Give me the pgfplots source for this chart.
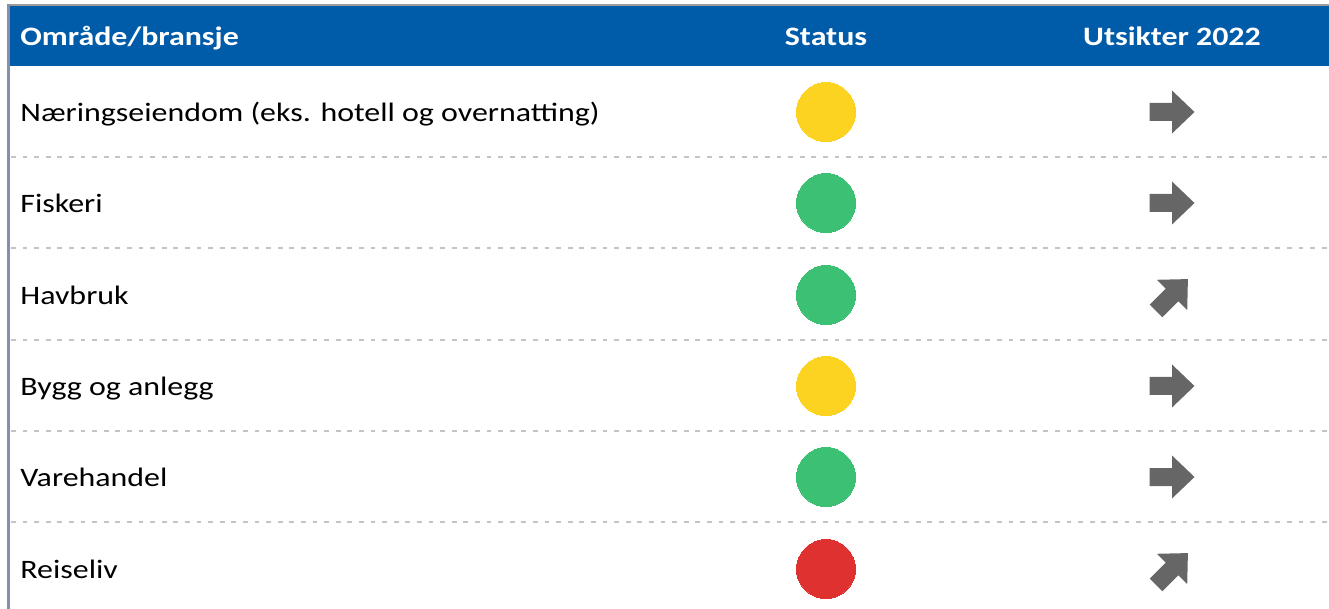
\documentclass[border=0pt]{standalone}
\usepackage{pgfplots}
\pgfplotsset{compat=1.18}
\usepackage{fontspec}
\setmainfont{Carlito}[FakeStretch=1.2]
\definecolor{hdrblue}{HTML}{005BA8}
\definecolor{cyellow}{HTML}{FDD321}
\definecolor{cgreen}{HTML}{3CC174}
\definecolor{cred}{HTML}{E03131}
\definecolor{arrowgray}{HTML}{666666}
\definecolor{dashgray}{HTML}{C4C4C4}
\definecolor{leftline}{HTML}{8291AB}
\definecolor{topline}{HTML}{9B9B9B}
\pgfdeclareplotmark{fatarrow}{%
  \pgfpathmoveto{\pgfpoint{-11.25pt}{-4.5pt}}%
  \pgfpathlineto{\pgfpoint{0pt}{-4.5pt}}%
  \pgfpathlineto{\pgfpoint{0pt}{-10.75pt}}%
  \pgfpathlineto{\pgfpoint{11.25pt}{0pt}}%
  \pgfpathlineto{\pgfpoint{0pt}{10.75pt}}%
  \pgfpathlineto{\pgfpoint{0pt}{4.5pt}}%
  \pgfpathlineto{\pgfpoint{-11.25pt}{4.5pt}}%
  \pgfpathclose
  \pgfusepathqfill}
\begin{document}
\begin{tikzpicture}
\begin{axis}[
  width=664.5pt, height=304.5pt, scale only axis,
  xmin=0, xmax=1329, ymin=0, ymax=609, y dir=reverse,
  hide axis, clip=false,
]
% header band
\addplot[fill=hdrblue, draw=none] coordinates {(10,6) (1329,6) (1329,66) (10,66)} -- cycle;
% borders
\addplot[topline, line width=1pt] coordinates {(8,5) (1329,5)};
\addplot[leftline, line width=1.2pt] coordinates {(8.5,4) (8.5,609)};
% dashed separators
\foreach \yy in {157,248,340,431,522} {
  \edef\tmp{\noexpand\addplot[dashgray, line width=1pt, dash pattern=on 2.4pt off 3.4pt] coordinates {(11,\yy) (1329,\yy)};}
  \tmp
}
% status circles
\addplot[cyellow, only marks, mark=*, mark size=14.75pt, mark options={draw=cyellow, fill=cyellow, line width=0pt}] coordinates {(826,112) (826,386)};
\addplot[cgreen, only marks, mark=*, mark size=14.75pt, mark options={draw=cgreen, fill=cgreen, line width=0pt}] coordinates {(826,203) (826,295) (826,477)};
\addplot[cred, only marks, mark=*, mark size=14.75pt, mark options={draw=cred, fill=cred, line width=0pt}] coordinates {(826,569)};
% outlook arrows
\addplot[arrowgray, only marks, mark=fatarrow, mark options={fill=arrowgray}] coordinates {(1172,112) (1172,203) (1172,386) (1172,477)};
\addplot[arrowgray, only marks, mark=fatarrow, mark options={fill=arrowgray, rotate=45}] coordinates {(1172,295) (1172,569)};
% header text
\node[anchor=base west, inner sep=0, text=white, font=\fontsize{13.3}{15}\selectfont\bfseries] at (axis cs:20,45.5) {Område/bransje};
\node[anchor=base, inner sep=0, text=white, font=\fontsize{13.3}{15}\selectfont\bfseries] at (axis cs:826,45.5) {Status};
\node[anchor=base, inner sep=0, text=white, font=\fontsize{13.3}{15}\selectfont\bfseries] at (axis cs:1172,45.5) {Utsikter 2022};
% row labels
\node[anchor=base west, inner sep=0, font=\fontsize{13.3}{15}\selectfont] at (axis cs:20,121.5) {Næringseiendom (eks. hotell og overnatting)};
\node[anchor=base west, inner sep=0, font=\fontsize{13.3}{15}\selectfont] at (axis cs:20,212.5) {Fiskeri};
\node[anchor=base west, inner sep=0, font=\fontsize{13.3}{15}\selectfont] at (axis cs:20,304.5) {Havbruk};
\node[anchor=base west, inner sep=0, font=\fontsize{13.3}{15}\selectfont] at (axis cs:20,395.5) {Bygg og anlegg};
\node[anchor=base west, inner sep=0, font=\fontsize{13.3}{15}\selectfont] at (axis cs:20,486.5) {Varehandel};
\node[anchor=base west, inner sep=0, font=\fontsize{13.3}{15}\selectfont] at (axis cs:20,578) {Reiseliv};
\end{axis}
\pgfresetboundingbox
\path[use as bounding box] (current axis.south west) rectangle (current axis.north east);
\end{tikzpicture}
\end{document}
